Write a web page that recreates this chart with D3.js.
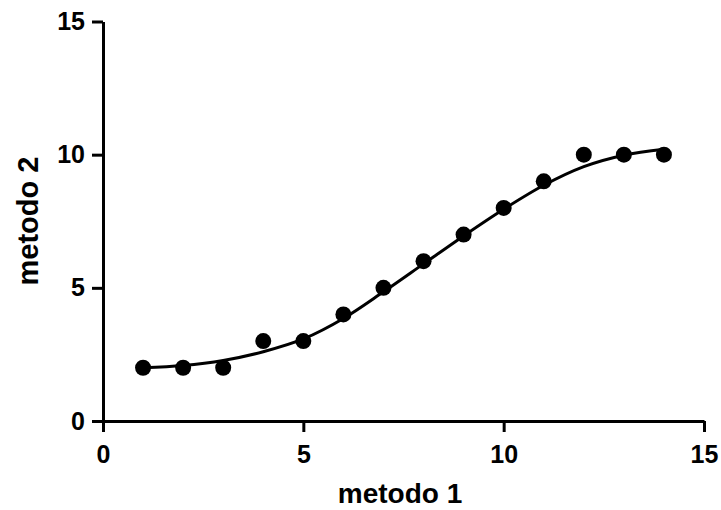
<!DOCTYPE html>
<html><head><meta charset="utf-8">
<script src="https://cdn.jsdelivr.net/npm/d3@7"></script>
<style>body{margin:0;background:#fff;} svg{display:block;}</style>
</head><body>
<svg id="c" width="721" height="510"></svg>
<script>
const pointsX = [1,2,3,4,5,6,7,8,9,10,11,12,13,14];
const pointsY = [2,2,2,3,3,4,5,6,7,8,9,10,10,10];
const curveX = [1,2,3,4,5,6,7,8,9,10,11,12,13,14];
const curveY = [2.0,2.08,2.27,2.6,3.08,3.85,4.85,5.9,6.95,7.95,8.85,9.55,9.98,10.2];
const xTicks = [0,5,10,15];
const yTicks = [0,5,10,15];
const xTitle = "metodo 1";
const yTitle = "metodo 2";

const svg = d3.select("#c");
const x = d3.scaleLinear().domain([0,15]).range([103,704]);
const y = d3.scaleLinear().domain([0,15]).range([421,21.5]);
const font = "'Liberation Sans', Arial, sans-serif";

const xAxis = svg.append("g").attr("transform","translate(0,421)")
  .call(d3.axisBottom(x).tickValues(xTicks).tickSize(11).tickSizeOuter(0).tickPadding(13));
const yAxis = svg.append("g").attr("transform","translate(103,0)")
  .call(d3.axisLeft(y).tickValues(yTicks).tickSize(11).tickSizeOuter(0).tickPadding(7));
[xAxis,yAxis].forEach(g=>{
  g.select(".domain").attr("stroke","#000").attr("stroke-width",3);
  g.selectAll(".tick line").attr("stroke","#000").attr("stroke-width",3);
  g.selectAll(".tick text").attr("fill","#000").style("font-family",font)
    .style("font-weight","bold").style("font-size","25px");
});

const line = d3.line().x((d,i)=>x(curveX[i])).y(d=>y(d)).curve(d3.curveMonotoneX);
svg.append("path").datum(curveY).attr("d",line).attr("fill","none")
  .attr("stroke","#000").attr("stroke-width",3);

svg.append("g").selectAll("circle").data(pointsY).join("circle")
  .attr("cx",(d,i)=>x(pointsX[i])).attr("cy",d=>y(d)).attr("r",8).attr("fill","#000");

svg.append("text").attr("x",400).attr("y",503).attr("text-anchor","middle")
  .style("font-family",font).style("font-weight","bold").style("font-size","28px").text(xTitle);
svg.append("text").attr("transform","translate(38,221) rotate(-90)").attr("text-anchor","middle")
  .style("font-family",font).style("font-weight","bold").style("font-size","29px").text(yTitle);
</script>
</body></html>
